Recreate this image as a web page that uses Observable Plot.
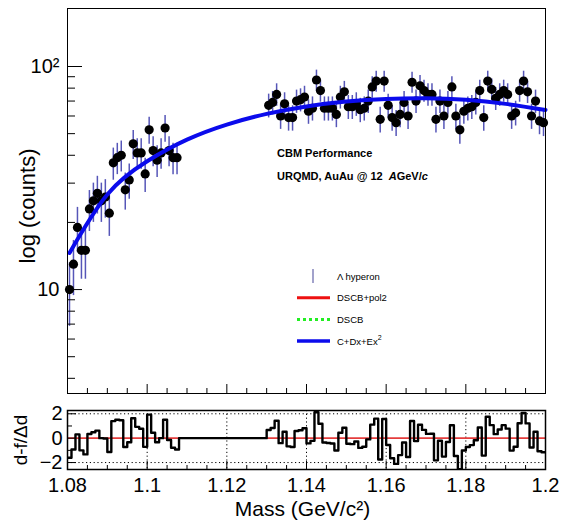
<!DOCTYPE html>
<html><head><meta charset="utf-8">
<script src="https://cdn.jsdelivr.net/npm/d3@7"></script>
<script src="https://cdn.jsdelivr.net/npm/@observablehq/plot@0.6"></script>
<style>
body{margin:0;background:#fff;}
#wrap{position:relative;width:561px;height:521px;font-family:"Liberation Sans",Arial,sans-serif;}
#wrap svg{position:absolute;left:0;}
</style></head><body><div id="wrap"></div>
<script>
// ---- data ----
const massMin = 1.08, massMax = 1.2, binWidth = 0.001;
const leftStart = 1.0805;   // centre of first filled bin, low-mass side
const rightStart = 1.1305;  // centre of first filled bin, high-mass side
const leftCounts = [10,13,19,15,15,23,25,27,25,26,22,37,39,40,28,31,45,41,41,33,52,42,38,41,53,42,39,39];
const rightCounts = [67,69,75,60,68,59,59,70,71,73,63,65,87,78,65,65,65,61,73,77,66,66,68,64,65,70,81,86,58,86,67,59,56,61,69,60,85,70,82,78,75,75,58,70,60,69,81,60,52,63,65,66,69,78,59,86,79,72,75,78,75,60,62,78,86,77,60,70,57,56];
// fitted background curve C+Dx+Ex^2 read at a few masses
const fitMass = [1.0805,1.09,1.10,1.11,1.12,1.13,1.14,1.15,1.16,1.17,1.18,1.19,1.20];
const fitCounts = [14.6,26.7,37.6,47.0,54.9,61.3,66.2,69.6,71.5,72.0,70.9,68.0,63.8];
// residuals (d-f)/Δd per 1 MeV bin
const resLeft = [-1.60,-0.93,0.31,-1.00,-1.33,0.34,0.48,0.62,0.00,-0.03,-1.14,1.40,1.51,1.47,-0.72,-0.34,1.64,0.93,0.77,-0.71,1.93,0.45,-0.34,0.00,1.51,-0.15,-0.78,-0.93];
const resGap = [0,0,0,0,0,0,0,0,0,0,0,0,0,0,0,0,0,0,0,0,0,0];
const resRight = [0.67,0.83,1.43,-0.41,0.53,-0.67,-0.73,0.59,0.65,0.82,-0.43,-0.22,2.13,1.18,-0.36,-0.40,-0.44,-1.01,0.45,0.86,-0.46,-0.49,-0.27,-0.80,-0.70,-0.10,1.11,1.60,-1.75,1.57,-0.56,-1.65,-2.11,-1.39,-0.35,-1.54,1.41,-0.24,1.10,0.68,0.35,0.36,-1.82,-0.21,-1.51,-0.31,1.06,-1.46,-2.55,-1.01,-0.72,-0.57,-0.17,0.88,-1.43,1.76,1.07,0.33,0.71,1.07,0.78,-1.02,-0.70,1.23,2.07,1.21,-0.77,0.53,-1.07,-1.15];
const xMajor = [1.08,1.10,1.12,1.14,1.16,1.18,1.20];
const xMinor = [1.085,1.09,1.095,1.105,1.11,1.115,1.125,1.13,1.135,1.145,1.15,1.155,1.165,1.17,1.175,1.185,1.19,1.195];
const xLabels = ["1.08","1.1","1.12","1.14","1.16","1.18","1.2"];
const yMajor = [10,100];
const yMajorLabels = ["10","10²"];
const yMinor = [4,5,6,7,8,9,20,30,40,50,60,70,80,90];
const resTicks = [-2,0,2];
const resMinor = [-1,1];
const resGrid = [-2,2];
const gridMass = [1.10,1.12,1.14,1.16,1.18];
const yTitle = "log (counts)";
const xTitle = "Mass (GeV/c²)";
const rTitle = "d-f/Δd";

// ---- tables ----
const points = [
  ...leftCounts.map((c,i)=>({x: leftStart + i*binWidth, y: c})),
  ...rightCounts.map((c,i)=>({x: rightStart + i*binWidth, y: c}))
].map(d=>({...d, lo: d.y - Math.sqrt(d.y), hi: d.y + Math.sqrt(d.y)}));
const fit = fitMass.map((m,i)=>({x: m, y: fitCounts[i]}));
const res = [...resLeft, ...resGap, ...resRight];
const hist = res.map((r,i)=>({x: massMin + i*binWidth, r}));
hist.push({x: massMax, r: res[res.length-1]});

const font = "Liberation Sans, Arial, Helvetica, sans-serif";
const blank = () => "";

const topPlot = Plot.plot({
  width: 561, height: 400,
  marginLeft: 67, marginRight: 16, marginTop: 8, marginBottom: 7,
  style: {fontFamily: font, fontSize: "20px", background: "white", color: "black"},
  x: {domain: [massMin, massMax]},
  y: {type: "log", domain: [3.42, 182]},
  marks: [
    Plot.ruleX(points, {x: "x", y1: "lo", y2: "hi", stroke: "#5656b8", strokeWidth: 1.5}),
    Plot.dot(points, {x: "x", y: "y", r: 4.6, fill: "black", stroke: "none"}),
    Plot.line(fit, {x: "x", y: "y", stroke: "#0b0bec", strokeWidth: 4, curve: "natural"}),
    Plot.axisY(yMinor, {anchor: "left", tickSize: -8, tickFormat: blank, label: null}),
    Plot.axisY(yMajor, {anchor: "left", tickSize: -15, tickFormat: blank, label: null}),
    Plot.axisY(yMajor, {anchor: "left", tickSize: 0, tickPadding: 8, fontSize: 20, tickFormat: (d,i)=>yMajorLabels[yMajor.indexOf(d)], label: null}),
    Plot.axisX(xMinor, {anchor: "bottom", tickSize: -5, tickFormat: blank, label: null}),
    Plot.axisX(xMajor, {anchor: "bottom", tickSize: -9, tickFormat: blank, label: null}),
    Plot.frame({stroke: "black", strokeWidth: 1}),
    Plot.text([yTitle], {text: d=>d, frameAnchor: "left", textAnchor: "middle", rotate: -90, dx: -40, dy: 5, fontSize: 22})
  ]
});

const botPlot = Plot.plot({
  width: 561, height: 121,
  marginLeft: 67, marginRight: 16, marginTop: 10, marginBottom: 52,
  style: {fontFamily: font, fontSize: "20px", background: "white", color: "black"},
  x: {domain: [massMin, massMax]},
  y: {domain: [-2.57, 2.27]},
  marks: [
    Plot.ruleX(gridMass, {stroke: "black", strokeWidth: 1, strokeDasharray: "1.2,2.6"}),
    Plot.ruleY(resGrid, {stroke: "black", strokeWidth: 1, strokeDasharray: "1.2,2.6"}),
    Plot.ruleY([0], {stroke: "#e43c3c", strokeWidth: 1.6}),
    Plot.line(hist, {x: "x", y: "r", curve: "step-after", stroke: "black", strokeWidth: 2.4, clip: true}),
    Plot.axisX(xMinor, {anchor: "bottom", tickSize: -4, tickFormat: blank, label: null}),
    Plot.axisX(xMajor, {anchor: "bottom", tickSize: -8, tickFormat: blank, label: null}),
    Plot.axisX(xMajor, {anchor: "bottom", tickSize: 0, tickPadding: 8, fontSize: 20, tickFormat: d=>xLabels[xMajor.indexOf(d)], label: null}),
    Plot.axisY(resMinor, {anchor: "left", tickSize: -5, tickFormat: blank, label: null}),
    Plot.axisY(resTicks, {anchor: "left", tickSize: -9, tickFormat: blank, label: null}),
    Plot.axisY(resTicks, {anchor: "left", tickSize: 0, tickPadding: 5, fontSize: 20, tickFormat: d => d < 0 ? "\u2212" + Math.abs(d) : String(d), label: null}),
    Plot.frame({stroke: "black", strokeWidth: 1.5}),
    Plot.text([xTitle], {text: d=>d, frameAnchor: "bottom", textAnchor: "middle", dy: 46, dx: -4, fontSize: 21}),
    Plot.text([rTitle], {text: d=>d, frameAnchor: "left", textAnchor: "middle", rotate: -90, dx: -47, fontSize: 19})
  ]
});

const wrap = document.getElementById("wrap");
topPlot.style.top = "0px";
botPlot.style.top = "400px";
wrap.appendChild(topPlot);
wrap.appendChild(botPlot);

// ---- annotations and legend ----
const svg = d3.select(topPlot);
const g = svg.append("g").attr("font-family", font).attr("fill", "black").attr("text-anchor", "start");
g.append("text").attr("x", 277).attr("y", 157).attr("font-size", 11).attr("font-weight", "bold").text("CBM Performance");
const t2 = g.append("text").attr("x", 277).attr("y", 180).attr("font-size", 11).attr("font-weight", "bold");
t2.append("tspan").text("URQMD, AuAu @ 12 ");
t2.append("tspan").attr("dx", 3).attr("font-style", "italic").text("A");
t2.append("tspan").text("GeV/");
t2.append("tspan").attr("font-style", "italic").text("c");

const legend = [
  {label: "\u039b hyperon", kind: "err"},
  {label: "DSCB+pol2", kind: "line", color: "#ee1111", dash: null, w: 3},
  {label: "DSCB", kind: "line", color: "#22ee22", dash: "3,3", w: 3},
  {label: "C+Dx+Ex", sup: "2", kind: "line", color: "#0b0bec", dash: null, w: 3.5}
];
legend.forEach((d, i) => {
  const y = 276 + i * 21.7;
  if (d.kind === "err") {
    g.append("line").attr("x1", 313).attr("x2", 313).attr("y1", y - 7).attr("y2", y + 7).attr("stroke", "#7070b0").attr("stroke-width", 1.3);
  } else {
    g.append("line").attr("x1", 297).attr("x2", 330).attr("y1", y).attr("y2", y).attr("stroke", d.color).attr("stroke-width", d.w).attr("stroke-dasharray", d.dash);
  }
  const t = g.append("text").attr("x", 337).attr("y", y + 3.5).attr("font-size", 9.5).text(d.label);
  if (d.sup) t.append("tspan").attr("dy", -5).attr("font-size", 7).text(d.sup);
});
</script></body></html>
